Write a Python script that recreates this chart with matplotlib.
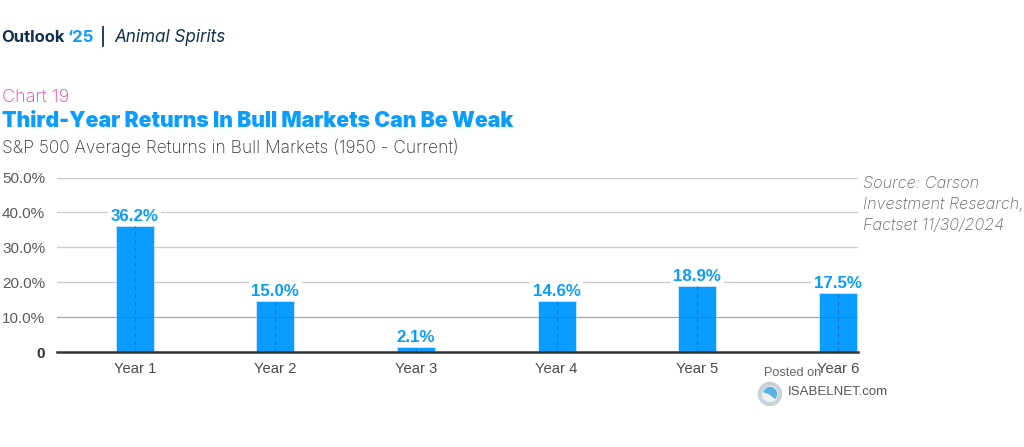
import matplotlib
matplotlib.use("Agg")
import matplotlib.pyplot as plt
from matplotlib.patches import Circle, Wedge

categories = ["Year 1", "Year 2", "Year 3", "Year 4", "Year 5", "Year 6"]
bar_values = [36.0, 14.5, 1.4, 14.5, 18.8, 17.0]
bar_labels = ["36.2%", "15.0%", "2.1%", "14.6%", "18.9%", "17.5%"]
y_ticks = [0, 10, 20, 30, 40, 50]
y_tick_labels = ["0", "10.0%", "20.0%", "30.0%", "40.0%", "50.0%"]

W, H = 1024, 447
BLUE = "#0A9DFF"
NAVY = "#12304D"
fig = plt.figure(figsize=(W / 100, H / 100), dpi=100, facecolor="white")

def px(x, y):
    return x / W, 1 - y / H

ax = fig.add_axes([57 / W, 1 - 352 / H, (858 - 57) / W, 174.5 / H])
ax.patch.set_alpha(0)
xs = list(range(len(categories)))
ax.set_xlim(-0.553, 5.144)
ax.set_ylim(0, 50)
ax.set_axisbelow(True)
ax.yaxis.grid(True, color="#CCCCCC", lw=1.0, zorder=0)
ax.bar(xs, bar_values, width=0.27, color=BLUE, edgecolor="#CFE9FB", linewidth=0.6, zorder=2)
for x, v in zip(xs, bar_values):
    ax.plot([x, x], [0, v], color="#1175BC", lw=0.8, dashes=(3.5, 3.5), zorder=3)
ax.axhline(10, color="#555555", alpha=0.3, lw=0.8, zorder=3)
for x, v, t_ in zip(xs, bar_values, bar_labels):
    ax.annotate(t_, (x, v), xytext=(0, 1.5), textcoords="offset points", ha="center", va="bottom",
                fontsize=12.2, fontweight="bold", family="Liberation Sans", color=BLUE, zorder=1.5,
                bbox=dict(facecolor="white", edgecolor="none", pad=2.0))
for s in ["top", "right", "left"]:
    ax.spines[s].set_visible(False)
ax.spines["bottom"].set_color("#333333")
ax.spines["bottom"].set_linewidth(1.8)
ax.spines["bottom"].set_zorder(5)
ax.set_xticks(xs, categories, family="Liberation Sans", fontsize=10.6, color="#4A4A4A")
ax.set_yticks(y_ticks, y_tick_labels, family="Liberation Sans", fontsize=11, color="#5A5A5A")
ax.tick_params(length=0)
ax.tick_params(axis="x", pad=7)
ax.tick_params(axis="y", pad=8.5)
ax.get_yticklabels()[0].set_fontweight("bold")
ax.get_yticklabels()[0].set_color("#333333")

def t(x, y, s, **k):
    fig.text(*px(x, y), s, va="center", **k)

t(1.5, 38, "Outlook", family="Inter", fontweight="bold", fontsize=12, color=NAVY)
t(67.5, 38, "‘25", family="Inter", fontweight="bold", fontsize=12, color=BLUE)
fig.add_artist(plt.Line2D([103 / W, 103 / W], [1 - 27 / H, 1 - 46 / H], color=NAVY, lw=1.3))
t(114, 38, "Animal Spirits", family="Inter", style="italic", fontsize=12.3, color=NAVY)
t(2, 97, "Chart 19", family="Inter", fontsize=13, color="#EC3F9B", fontweight="light")
t(2, 121, "Third-Year Returns In Bull Markets Can Be Weak", family="Inter", fontweight="black", fontsize=15.3, color=BLUE)
t(2, 148, "S&P 500 Average Returns in Bull Markets (1950 - Current)", family="Inter", fontweight="light", fontsize=12.5, color="#333333")
for y, s in zip([183, 204, 225], ["Source: Carson", "Investment Research,", "Factset 11/30/2024"]):
    t(863, y, s, family="Inter", style="italic", fontweight="light", fontsize=11.7, color="#666666")
t(764, 373, "Posted on", family="Liberation Sans", fontsize=9.2, color="#666666")
t(788, 392, "ISABELNET.com", family="Liberation Sans", fontsize=9.5, color="#555555")

overlay = fig.add_axes([0, 0, 1, 1], zorder=10)
overlay.set_xlim(0, W); overlay.set_ylim(H, 0); overlay.axis("off")
overlay.add_patch(Circle((770, 394), 11.5, color="#C9D2D8"))
overlay.add_patch(Circle((770, 394), 7.5, color="#EDF2F5"))
overlay.add_patch(Wedge((770, 394), 6.5, 200, 40, color="#58B3E4"))
fig.savefig("out.png", dpi=100)
